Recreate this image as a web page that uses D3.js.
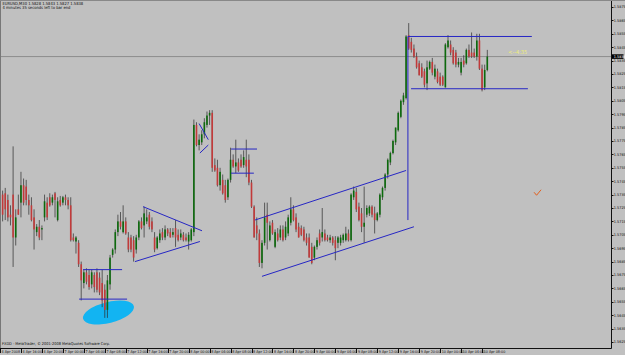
<!DOCTYPE html>
<html>
<head>
<meta charset="utf-8">
<script src="https://cdnjs.cloudflare.com/ajax/libs/d3/7.8.5/d3.min.js"></script>
<style>
  body { margin: 0; background: #c0c0c0; }
  svg { display: block; }
  text { font-family: "Liberation Sans Narrow", "DejaVu Sans Condensed", "Liberation Sans", Arial, sans-serif; }
</style>
</head>
<body>
<div id="chart"></div>
<script>
// chart data (EURUSD M30)
const symbol = "EURUSD,M30";
const timerText = "4 minutes 35 seconds left to bar end";
const timerArrow = "<--4:35";
const footer = "FXDD - MetaTrader, \u00a9 2001-2008 MetaQuotes Software Corp.";

const priceTicks = [1.5625, 1.5635, 1.5645, 1.5655, 1.5665, 1.5675, 1.5685, 1.5695, 1.5705,
  1.5715, 1.5725, 1.5735, 1.5745, 1.5755, 1.5765, 1.5775, 1.5785, 1.5795, 1.5805, 1.5815,
  1.5825, 1.5835, 1.5845, 1.5855, 1.5865, 1.5875];

const timeLabels = ["4 Apr 2008", "4 Apr 16:00", "4 Apr 20:00", "7 Apr 00:00", "7 Apr 04:00",
  "7 Apr 08:00", "7 Apr 12:00", "7 Apr 16:00", "7 Apr 20:00", "8 Apr 00:00", "8 Apr 04:00",
  "8 Apr 08:00", "8 Apr 12:00", "8 Apr 16:00", "8 Apr 20:00", "9 Apr 00:00", "9 Apr 04:00",
  "9 Apr 08:00", "9 Apr 12:00", "9 Apr 16:00", "9 Apr 20:00", "10 Apr 00:00", "10 Apr 04:00",
  "10 Apr 08:00"];

// [open, high, low, close]
const candles = [
  [1.5707,1.5725,1.5704,1.5722],[1.5735,1.5738,1.5715,1.5720],[1.5736,1.5740,1.5716,1.5724],[1.5731,1.5735,1.5715,1.5718],
  [1.5720,1.5727,1.5712,1.5718],[1.5735,1.5771,1.5681,1.5703],[1.5703,1.5724,1.5697,1.5718],[1.5724,1.5735,1.5720,1.5720],
  [1.5729,1.5752,1.5718,1.5742],[1.5742,1.5747,1.5727,1.5729],[1.5741,1.5746,1.5727,1.5731],[1.5731,1.5735,1.5720,1.5727],
  [1.5727,1.5733,1.5715,1.5716],[1.5718,1.5724,1.5694,1.5709],[1.5707,1.5713,1.5704,1.5711],[1.5711,1.5716,1.5701,1.5703],
  [1.5709,1.5712,1.5701,1.5710],[1.5718,1.5735,1.5715,1.5730],[1.5729,1.5733,1.5716,1.5718],[1.5733,1.5736,1.5726,1.5727],
  [1.5729,1.5735,1.5727,1.5733],[1.5736,1.5737,1.5718,1.5731],[1.5716,1.5733,1.5715,1.5730],[1.5731,1.5734,1.5726,1.5727],
  [1.5729,1.5734,1.5727,1.5733],[1.5733,1.5735,1.5727,1.5731],[1.5731,1.5733,1.5724,1.5727],[1.5727,1.5733,1.5700,1.5701],
  [1.5703,1.5706,1.5700,1.5701],[1.5700,1.5704,1.5691,1.5703],[1.5699,1.5701,1.5681,1.5683],[1.5683,1.5685,1.5656,1.5671],
  [1.5669,1.5679,1.5665,1.5677],[1.5677,1.5680,1.5668,1.5670],[1.5675,1.5679,1.5664,1.5666],[1.5668,1.5679,1.5665,1.5677],
  [1.5675,1.5677,1.5662,1.5666],[1.5677,1.5680,1.5662,1.5664],[1.5673,1.5677,1.5660,1.5662],[1.5669,1.5679,1.5651,1.5656],
  [1.5664,1.5668,1.5643,1.5649],[1.5649,1.5675,1.5643,1.5671],[1.5668,1.5690,1.5664,1.5688],[1.5690,1.5695,1.5688,1.5694],
  [1.5694,1.5709,1.5691,1.5707],[1.5707,1.5720,1.5704,1.5715],[1.5715,1.5722,1.5709,1.5711],[1.5707,1.5727,1.5706,1.5715],
  [1.5715,1.5718,1.5705,1.5706],[1.5703,1.5707,1.5692,1.5694],[1.5703,1.5705,1.5692,1.5694],[1.5701,1.5704,1.5685,1.5688],
  [1.5694,1.5705,1.5691,1.5703],[1.5703,1.5716,1.5701,1.5715],[1.5715,1.5718,1.5709,1.5710],[1.5712,1.5726,1.5703,1.5721],
  [1.5715,1.5724,1.5713,1.5718],[1.5720,1.5722,1.5709,1.5711],[1.5715,1.5718,1.5707,1.5709],[1.5703,1.5707,1.5692,1.5694],
  [1.5695,1.5704,1.5694,1.5703],[1.5701,1.5709,1.5699,1.5706],[1.5707,1.5710,1.5701,1.5703],[1.5703,1.5712,1.5701,1.5709],
  [1.5709,1.5710,1.5704,1.5706],[1.5707,1.5710,1.5703,1.5703],[1.5705,1.5710,1.5703,1.5707],[1.5710,1.5716,1.5696,1.5703],
  [1.5705,1.5709,1.5700,1.5701],[1.5703,1.5709,1.5701,1.5706],[1.5705,1.5707,1.5700,1.5701],[1.5703,1.5706,1.5700,1.5701],
  [1.5700,1.5707,1.5694,1.5705],[1.5701,1.5710,1.5700,1.5709],[1.5707,1.5791,1.5704,1.5787],[1.5787,1.5789,1.5771,1.5772],
  [1.5772,1.5780,1.5768,1.5776],[1.5774,1.5783,1.5772,1.5780],[1.5780,1.5792,1.5777,1.5789],[1.5787,1.5797,1.5785,1.5794],
  [1.5794,1.5798,1.5787,1.5796],[1.5796,1.5798,1.5752,1.5755],[1.5757,1.5762,1.5752,1.5753],[1.5755,1.5761,1.5741,1.5742],
  [1.5742,1.5755,1.5738,1.5752],[1.5746,1.5750,1.5735,1.5736],[1.5742,1.5746,1.5729,1.5731],[1.5733,1.5747,1.5731,1.5746],
  [1.5746,1.5770,1.5744,1.5761],[1.5761,1.5765,1.5755,1.5756],[1.5756,1.5776,1.5751,1.5759],[1.5759,1.5762,1.5752,1.5753],
  [1.5761,1.5765,1.5755,1.5756],[1.5757,1.5768,1.5755,1.5763],[1.5761,1.5776,1.5748,1.5756],[1.5761,1.5765,1.5742,1.5744],
  [1.5744,1.5746,1.5725,1.5726],[1.5726,1.5727,1.5703,1.5703],[1.5712,1.5718,1.5701,1.5706],[1.5706,1.5709,1.5681,1.5684],
  [1.5684,1.5701,1.5680,1.5699],[1.5699,1.5729,1.5697,1.5718],[1.5720,1.5729,1.5694,1.5714],[1.5701,1.5715,1.5700,1.5712],
  [1.5714,1.5716,1.5705,1.5706],[1.5696,1.5709,1.5695,1.5707],[1.5706,1.5710,1.5700,1.5701],[1.5703,1.5712,1.5701,1.5709],
  [1.5709,1.5712,1.5700,1.5701],[1.5703,1.5715,1.5701,1.5711],[1.5706,1.5720,1.5704,1.5718],[1.5714,1.5733,1.5712,1.5724],
  [1.5724,1.5727,1.5715,1.5716],[1.5718,1.5721,1.5707,1.5709],[1.5711,1.5714,1.5703,1.5703],[1.5710,1.5712,1.5704,1.5705],
  [1.5709,1.5711,1.5700,1.5701],[1.5703,1.5706,1.5697,1.5699],[1.5703,1.5706,1.5688,1.5688],[1.5696,1.5699,1.5683,1.5684],
  [1.5688,1.5697,1.5686,1.5696],[1.5696,1.5703,1.5694,1.5701],[1.5706,1.5709,1.5697,1.5699],[1.5703,1.5725,1.5700,1.5707],
  [1.5706,1.5709,1.5700,1.5701],[1.5703,1.5705,1.5700,1.5701],[1.5701,1.5705,1.5699,1.5703],[1.5703,1.5704,1.5697,1.5699],
  [1.5701,1.5704,1.5686,1.5695],[1.5699,1.5704,1.5695,1.5703],[1.5699,1.5705,1.5697,1.5703],[1.5701,1.5706,1.5699,1.5705],
  [1.5701,1.5711,1.5700,1.5706],[1.5706,1.5709,1.5700,1.5701],[1.5701,1.5736,1.5700,1.5735],[1.5733,1.5741,1.5731,1.5738],
  [1.5737,1.5740,1.5722,1.5724],[1.5726,1.5729,1.5715,1.5716],[1.5721,1.5725,1.5707,1.5711],[1.5711,1.5741,1.5699,1.5714],
  [1.5720,1.5727,1.5718,1.5725],[1.5721,1.5727,1.5719,1.5726],[1.5726,1.5727,1.5718,1.5720],[1.5721,1.5726,1.5706,1.5716],
  [1.5716,1.5722,1.5715,1.5721],[1.5720,1.5736,1.5718,1.5735],[1.5733,1.5741,1.5731,1.5740],[1.5740,1.5751,1.5738,1.5750],
  [1.5750,1.5762,1.5747,1.5761],[1.5759,1.5767,1.5757,1.5766],[1.5766,1.5776,1.5765,1.5775],[1.5774,1.5785,1.5772,1.5785],
  [1.5783,1.5797,1.5782,1.5796],[1.5793,1.5806,1.5792,1.5805],[1.5804,1.5811,1.5802,1.5809],[1.5807,1.5854,1.5806,1.5853],
  [1.5854,1.5863,1.5843,1.5844],[1.5849,1.5852,1.5841,1.5843],[1.5844,1.5847,1.5837,1.5838],[1.5838,1.5841,1.5829,1.5830],
  [1.5833,1.5835,1.5824,1.5824],[1.5830,1.5833,1.5822,1.5823],[1.5827,1.5829,1.5815,1.5817],[1.5818,1.5835,1.5813,1.5830],
  [1.5829,1.5835,1.5828,1.5834],[1.5834,1.5837,1.5824,1.5826],[1.5823,1.5832,1.5821,1.5829],[1.5827,1.5829,1.5818,1.5819],
  [1.5823,1.5826,1.5816,1.5817],[1.5823,1.5824,1.5816,1.5817],[1.5815,1.5848,1.5815,1.5847],[1.5845,1.5854,1.5844,1.5850],
  [1.5847,1.5850,1.5839,1.5841],[1.5843,1.5845,1.5832,1.5833],[1.5841,1.5843,1.5830,1.5832],[1.5832,1.5837,1.5830,1.5834],
  [1.5826,1.5837,1.5824,1.5834],[1.5835,1.5839,1.5830,1.5832],[1.5833,1.5844,1.5832,1.5843],[1.5843,1.5847,1.5837,1.5838],
  [1.5841,1.5856,1.5837,1.5838],[1.5841,1.5844,1.5837,1.5838],[1.5838,1.5855,1.5835,1.5850],[1.5850,1.5855,1.5828,1.5829],
  [1.5829,1.5832,1.5812,1.5813],[1.5815,1.5832,1.5813,1.5828],[1.5828,1.5843,1.5827,1.5838]
];

// drawn objects: [bar1, price1, bar2, price2]
const trendLines = [
  [31.7, 1.5679, 46.6, 1.5679],
  [30.2, 1.5657, 48.5, 1.5657],
  [54.6, 1.5726, 77.1, 1.5708],
  [51.5, 1.5685, 76.3, 1.5700],
  [76.0, 1.5788, 79.5, 1.5776],
  [76.3, 1.5766, 79.5, 1.5772],
  [88.2, 1.5769, 98.1, 1.5769],
  [88.2, 1.5751, 96.9, 1.5751],
  [97.3, 1.5716, 155.0, 1.5753],
  [100.0, 1.5674, 158.0, 1.5711],
  [155.7, 1.5853, 155.7, 1.5716],
  [155.7, 1.5853, 203.0, 1.5853],
  [156.9, 1.5814, 201.5, 1.5814]
];
// ellipse: centre bar, centre price, half width (bars), half height (price), angle
const ellipseMark = [41.4, 1.5647, 10, 0.00078, -14];
const arrowMark = [205, 1.5736];

const width = 625, height = 355;
const plot = { left: 0, right: 611, top: 1, bottom: 348 };

// bar times, M30, weekend skipped
const start = Date.UTC(2008, 3, 4, 12, 0);
const times = candles.map((d, i) => {
  let t = start + i * 1800000;
  if (t >= Date.UTC(2008, 3, 5)) t += 2 * 86400000;
  return new Date(t);
});
const fmt = d3.utcFormat("%-d %b %H:%M");

const x = d3.scaleLinear().domain([0, candles.length - 1]).range([0, 487.3]);
const y = d3.scaleLinear().domain([1.5625, 1.5875]).range([342, 7]);

const svg = d3.select("#chart").append("svg")
  .attr("width", width).attr("height", height);

svg.append("rect").attr("width", width).attr("height", height).attr("fill", "#c0c0c0");

const g = svg.append("g");

// bid line
const last = candles[candles.length - 1];
g.append("line")
  .attr("x1", plot.left).attr("x2", plot.right)
  .attr("y1", y(last[3])).attr("y2", y(last[3]))
  .attr("stroke", "#8c8c8c").attr("stroke-width", 1);

// ellipse behind candles
g.append("ellipse")
  .attr("cx", 0).attr("cy", 0)
  .attr("rx", x(ellipseMark[2]) - x(0))
  .attr("ry", y(0) - y(ellipseMark[3]))
  .attr("transform", `translate(${x(ellipseMark[0])},${y(ellipseMark[1])}) rotate(${ellipseMark[4]})`)
  .attr("fill", "#12b4f2");

// candles
const bar = g.selectAll(".bar").data(candles).enter().append("g");
bar.append("line")
  .attr("x1", (d, i) => x(i)).attr("x2", (d, i) => x(i))
  .attr("y1", d => y(d[1])).attr("y2", d => y(d[2]))
  .attr("stroke", "#2b2b2b").attr("stroke-width", 0.7);
bar.append("rect")
  .attr("x", (d, i) => x(i) - 0.8)
  .attr("width", 1.6)
  .attr("y", d => y(Math.max(d[0], d[3])))
  .attr("height", d => Math.max(0.7, Math.abs(y(d[0]) - y(d[3]))))
  .attr("fill", d => d[3] >= d[0] ? "#0c6a0c" : "#c23a3a");

// drawn lines
g.selectAll(".tl").data(trendLines).enter().append("line")
  .attr("x1", d => x(d[0])).attr("y1", d => y(d[1]))
  .attr("x2", d => x(d[2])).attr("y2", d => y(d[3]))
  .attr("stroke", "#2626c4").attr("stroke-width", 1);

// arrow object
g.append("path")
  .attr("d", `M${x(arrowMark[0]) - 3},${y(arrowMark[1]) - 1} l2.5,3 l4.5,-5.5`)
  .attr("fill", "none").attr("stroke", "#e2601e").attr("stroke-width", 1);

// timer text next to price
g.append("text")
  .attr("x", x(194)).attr("y", y(last[3]) - 2.5)
  .attr("font-size", 5.5).attr("fill", "#eeee78")
  .text(timerArrow);

// axes frame
svg.append("line").attr("x1", plot.right + 0.5).attr("x2", plot.right + 0.5)
  .attr("y1", 0).attr("y2", plot.bottom + 0.5).attr("stroke", "#111");
svg.append("line").attr("x1", 0).attr("x2", plot.right + 0.5)
  .attr("y1", plot.bottom + 0.5).attr("y2", plot.bottom + 0.5).attr("stroke", "#111");
svg.append("line").attr("x1", 0.5).attr("x2", 0.5)
  .attr("y1", 0).attr("y2", plot.bottom).attr("stroke", "#777");
svg.append("line").attr("x1", 0).attr("x2", width)
  .attr("y1", 0.5).attr("y2", 0.5).attr("stroke", "#888");

// price axis
const yAxis = svg.append("g");
yAxis.selectAll("line").data(priceTicks).enter().append("line")
  .attr("x1", plot.right + 1).attr("x2", plot.right + 2.5)
  .attr("y1", d => Math.round(y(d)) + 0.5).attr("y2", d => Math.round(y(d)) + 0.5)
  .attr("stroke", "#111");
yAxis.selectAll("text").data(priceTicks).enter().append("text")
  .attr("x", plot.right + 2.8).attr("y", d => y(d) + 1.4)
  .attr("font-size", 3.8).attr("fill", "#111")
  .text(d => d.toFixed(4));

// current price box
svg.append("rect")
  .attr("x", plot.right + 1).attr("y", y(last[3]) - 2.3)
  .attr("width", width - plot.right - 2.5).attr("height", 4.6).attr("fill", "#000");
svg.append("text")
  .attr("x", plot.right + 2.8).attr("y", y(last[3]) + 1.4)
  .attr("font-size", 3.8).attr("fill", "#fff")
  .text(last[3].toFixed(4));

// time axis
const labelBars = timeLabels.map(lab => {
  const k = times.findIndex(t => fmt(t) === lab);
  return k < 0 ? 0 : k;
});
const xAxis = svg.append("g");
xAxis.selectAll("line").data(labelBars).enter().append("line")
  .attr("x1", d => Math.round(x(d)) + 0.5).attr("x2", d => Math.round(x(d)) + 0.5)
  .attr("y1", plot.bottom + 1).attr("y2", plot.bottom + 5)
  .attr("stroke", "#111");
xAxis.selectAll("text").data(timeLabels).enter().append("text")
  .attr("x", (d, i) => x(labelBars[i]) + 1.6).attr("y", plot.bottom + 4.8)
  .attr("font-size", 3.7).attr("fill", "#111")
  .text(d => d);

// header and footer
svg.append("text").attr("x", 2.5).attr("y", 4.8).attr("font-size", 4.1).attr("fill", "#111")
  .text(`${symbol} ${last.map(v => v.toFixed(4)).join(" ")}`);
svg.append("text").attr("x", 2.5).attr("y", 8.8).attr("font-size", 4.1).attr("fill", "#111")
  .text(timerText);
svg.append("text").attr("x", 2).attr("y", plot.bottom - 3).attr("font-size", 3.9).attr("fill", "#111")
  .text(footer);
</script>
</body>
</html>
